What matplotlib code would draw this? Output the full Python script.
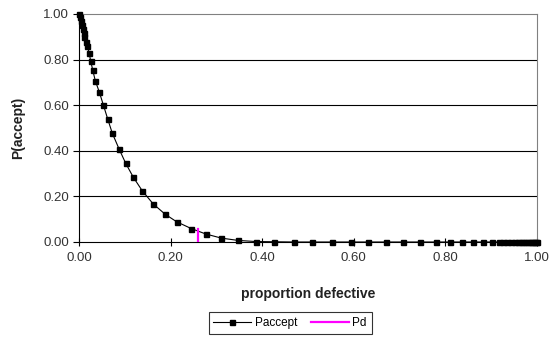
import matplotlib
matplotlib.use("Agg")
import matplotlib.pyplot as plt

# valores
p_defect = [0.000, 0.002, 0.004, 0.006, 0.008, 0.010, 0.012, 0.015, 0.018,
            0.022, 0.0255, 0.030, 0.0356, 0.0443, 0.053, 0.0626, 0.0727,
            0.0873, 0.102, 0.1186, 0.138, 0.162, 0.188, 0.213, 0.245, 0.277,
            0.311, 0.347, 0.386, 0.426, 0.469, 0.509, 0.552, 0.593, 0.632,
            0.670, 0.708, 0.745, 0.779, 0.810, 0.836, 0.861, 0.883, 0.901,
            0.916, 0.926, 0.935, 0.944, 0.951, 0.958, 0.964, 0.970, 0.976,
            0.981, 0.986, 0.990, 0.994, 0.997, 1.000]
p_accept = [1.000, 0.985, 0.970, 0.952, 0.935, 0.918, 0.900, 0.878, 0.860,
            0.830, 0.794, 0.754, 0.707, 0.658, 0.602, 0.540, 0.477,
            0.409, 0.345, 0.284, 0.225, 0.167, 0.122, 0.089, 0.059, 0.035,
            0.017, 0.007, 0.002, 0.001] + [0.0] * 29

pd_x = [0.26, 0.26]
pd_y = [0.0, 0.055]

plt.rcParams['font.family'] = ['Liberation Sans', 'DejaVu Sans']

fig = plt.figure(figsize=(5.5, 3.41), dpi=100)
ax = fig.add_axes([79 / 550, 1 - 242 / 341, 458 / 550, 228 / 341])

ax.plot(p_defect, p_accept, color='black', lw=0.8, marker='s', ms=3.6,
        label='Paccept', zorder=3, clip_on=False)
ax.plot(pd_x, pd_y, color='#ff00ff', lw=1.6, label='Pd', zorder=4)

ax.set_xlim(0, 1)
ax.set_ylim(0, 1)
ax.set_xticks([0, 0.2, 0.4, 0.6, 0.8, 1.0])
ax.set_yticks([0, 0.2, 0.4, 0.6, 0.8, 1.0])
ax.set_xticklabels(['0.00', '0.20', '0.40', '0.60', '0.80', '1.00'])
ax.set_yticklabels(['0.00', '0.20', '0.40', '0.60', '0.80', '1.00'])
ax.tick_params(axis='x', direction='inout', length=6, width=0.8,
               labelsize=9.5, pad=4, colors='black', labelcolor='#333333')
ax.tick_params(axis='y', direction='out', length=4, width=0.8,
               labelsize=9.5, pad=3, colors='black', labelcolor='#333333')

for y in [0.2, 0.4, 0.6, 0.8]:
    ax.axhline(y, color='black', lw=0.8, zorder=1)

ax.spines['left'].set_color('black')
ax.spines['bottom'].set_color('black')
ax.spines['top'].set_color('#808080')
ax.spines['right'].set_color('#808080')
for s in ax.spines.values():
    s.set_linewidth(0.8)

ax.set_xlabel('proportion defective', fontsize=10, fontweight='bold',
              color='#222222', labelpad=17)
ax.set_ylabel('P(accept)', fontsize=10, fontweight='bold',
              color='#222222', labelpad=13)

leg = fig.legend(loc='center', bbox_to_anchor=(290 / 550, 1 - 323 / 341),
                 ncol=2, fontsize=8.5, frameon=True, fancybox=False,
                 edgecolor='black', handlelength=3.2, columnspacing=1.2,
                 borderpad=0.4, handletextpad=0.3)
leg.get_frame().set_linewidth(0.8)

fig.savefig('out.png', dpi=100)
